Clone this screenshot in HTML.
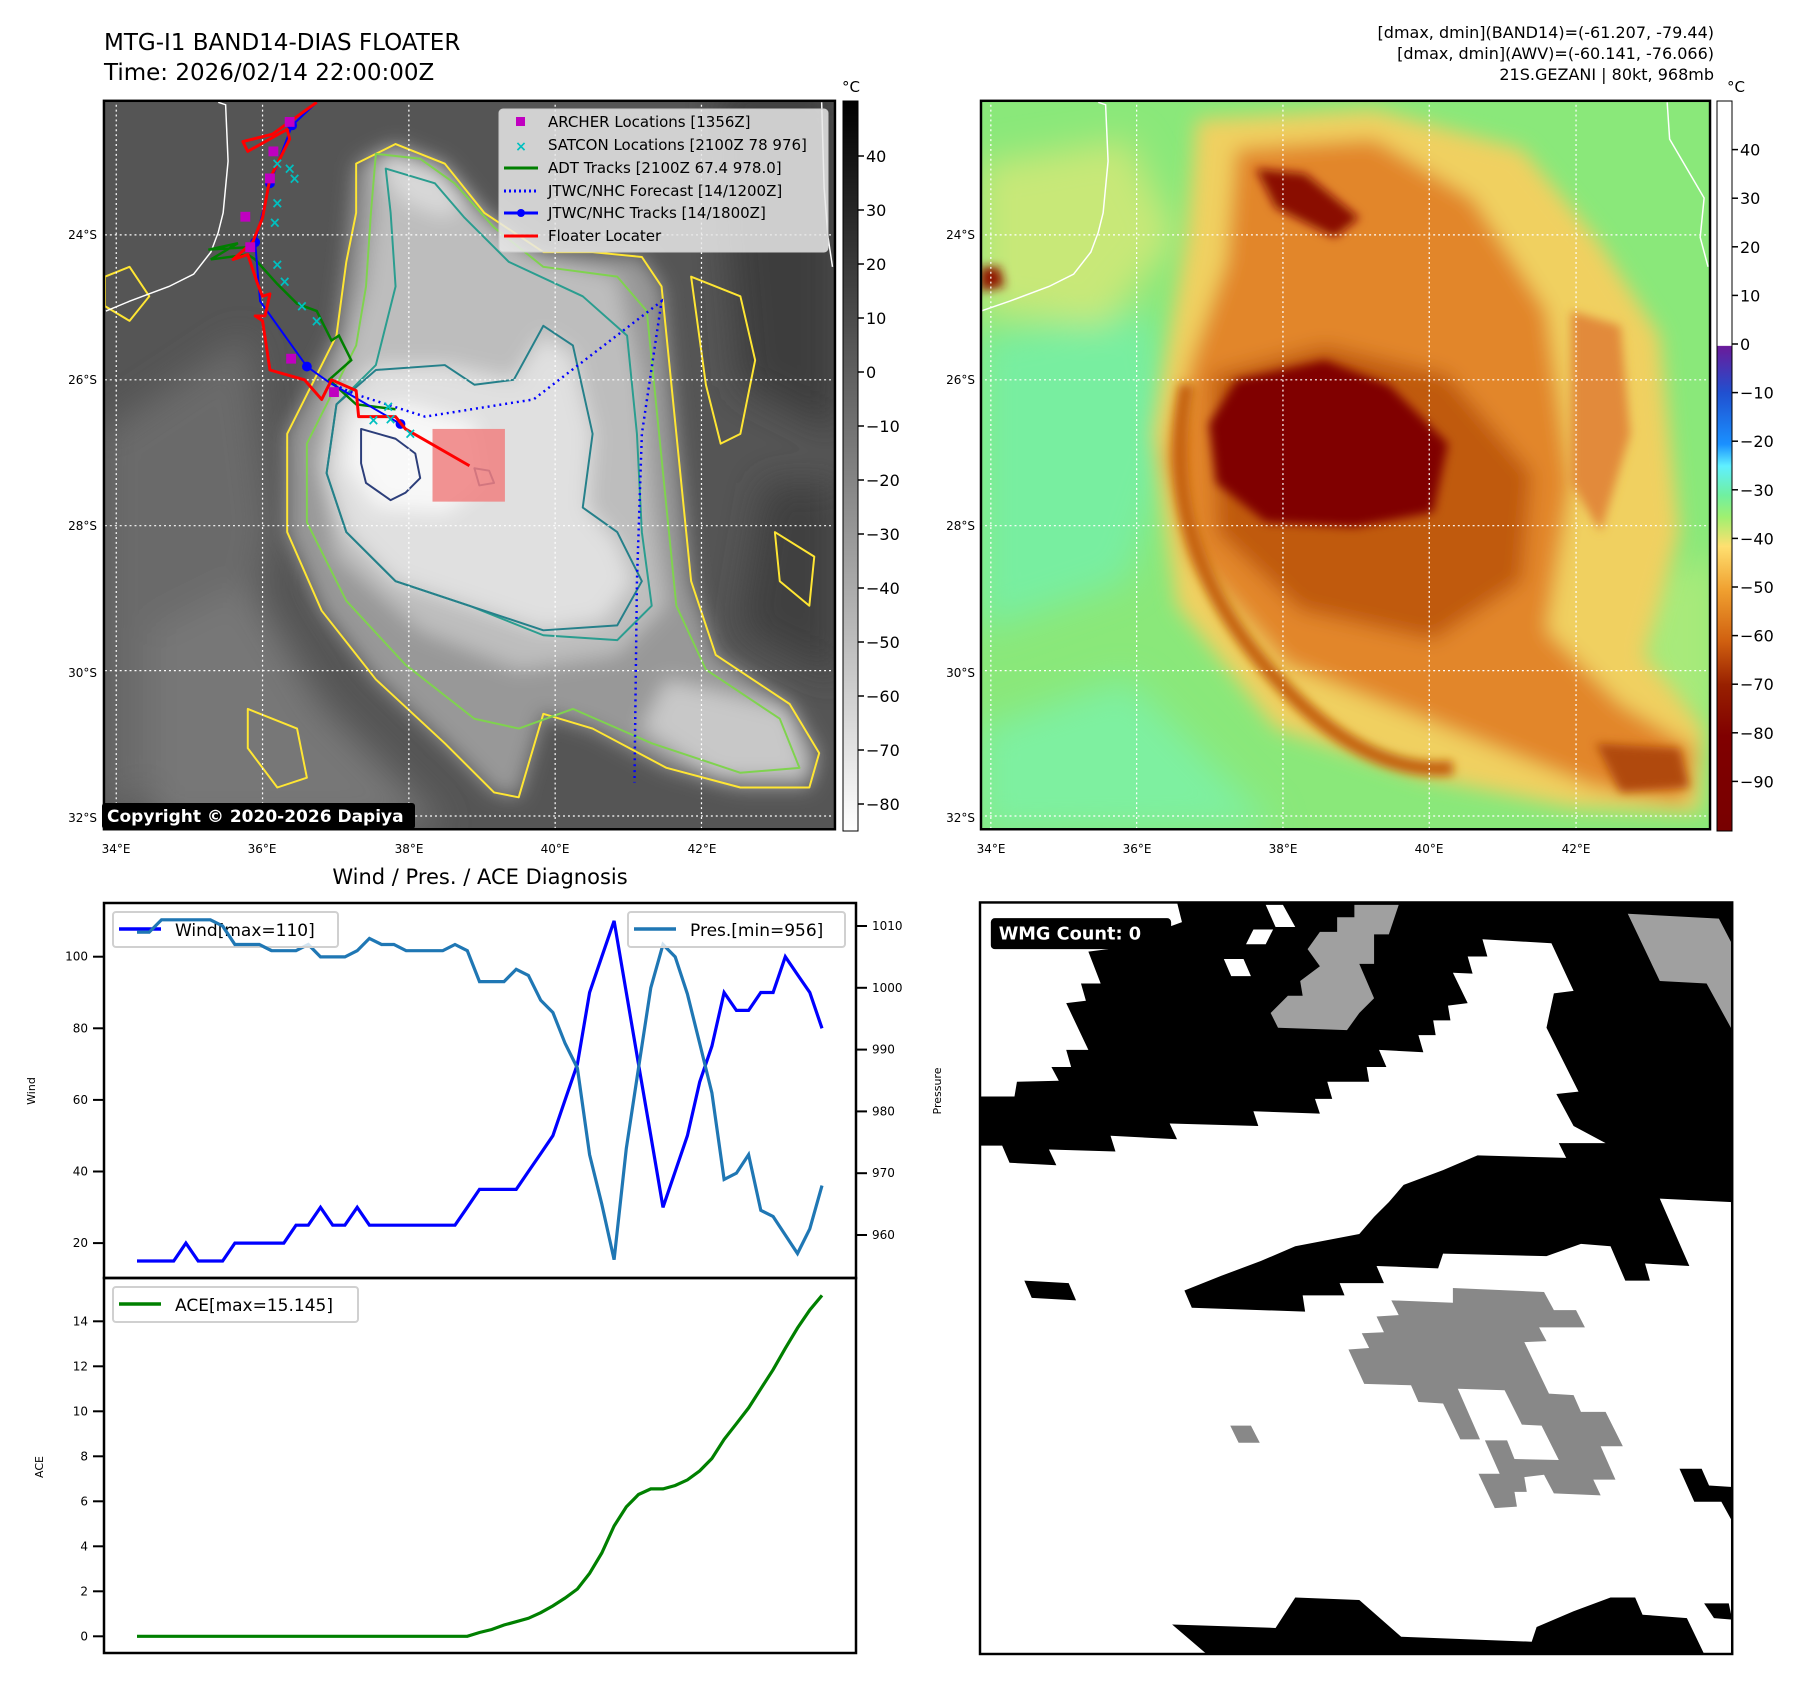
<!DOCTYPE html>
<html><head><meta charset="utf-8"><style>
html,body{margin:0;padding:0;background:#fff}
svg{display:block;font-family:"DejaVu Sans","Liberation Sans",sans-serif}
</style></head><body>
<svg id="root" width="1797" height="1690" viewBox="0 0 1797 1690" xmlns="http://www.w3.org/2000/svg">
<defs>
<filter id="b20" x="-20%" y="-20%" width="140%" height="140%"><feGaussianBlur stdDeviation="20"/></filter>
<filter id="b10" x="-20%" y="-20%" width="140%" height="140%"><feGaussianBlur stdDeviation="10"/></filter>
<filter id="b35" x="-30%" y="-30%" width="160%" height="160%"><feGaussianBlur stdDeviation="35"/></filter>
<clipPath id="clipL"><rect x="8" y="22" width="1484" height="1483"/></clipPath>
<clipPath id="clipR"><rect x="2" y="22" width="1480" height="1483"/></clipPath>
<clipPath id="clipW"><rect x="0" y="5" width="1527" height="1530"/></clipPath>
<linearGradient id="cbGray" x1="0" y1="0" x2="0" y2="1"><stop offset="0" stop-color="#000"/><stop offset="1" stop-color="#fff"/></linearGradient>
<linearGradient id="cbColor" x1="0" y1="0" x2="0" y2="1">
<stop offset="0" stop-color="#fff"/><stop offset="0.335" stop-color="#fff"/>
<stop offset="0.336" stop-color="#6a1b9a"/><stop offset="0.40" stop-color="#2050d0"/>
<stop offset="0.47" stop-color="#1a90ff"/><stop offset="0.50" stop-color="#60f0ff"/>
<stop offset="0.54" stop-color="#70f0a0"/><stop offset="0.57" stop-color="#a0f070"/>
<stop offset="0.61" stop-color="#ffe070"/><stop offset="0.67" stop-color="#f0a030"/>
<stop offset="0.74" stop-color="#d06010"/><stop offset="0.80" stop-color="#982000"/>
<stop offset="0.87" stop-color="#800000"/><stop offset="1" stop-color="#780000"/>
</linearGradient>
</defs>

<text x="104" y="50" font-size="23">MTG-I1 BAND14-DIAS FLOATER</text>
<text x="104" y="80" font-size="23">Time: 2026/02/14 22:00:00Z</text>
<g font-size="16" text-anchor="end">
<text x="1714" y="38">[dmax, dmin](BAND14)=(-61.207, -79.44)</text>
<text x="1714" y="59">[dmax, dmin](AWV)=(-60.141, -76.066)</text>
<text x="1714" y="80">21S.GEZANI | 80kt, 968mb</text>
</g>

<!-- LEFT MAP -->
<g transform="translate(100,90) scale(0.4926,0.4912)">
<g clip-path="url(#clipL)">
<rect x="0" y="0" width="1600" height="1600" fill="#555"/>
<g filter="url(#b35)">
<path d="M0 700 L300 500 L350 900 L250 1300 L0 1500Z" fill="#6a6a6a"/>
<path d="M1250 0 L1500 0 L1500 700 L1300 600Z" fill="#3c3c3c"/>
<path d="M1350 800 L1500 800 L1500 1200 L1300 1100Z" fill="#404040"/>
<path d="M100 1100 L300 1000 L450 1250 L700 1500 L100 1500Z" fill="#777"/>
</g>
<g filter="url(#b20)">
<path d="M520 150 L600 110 L700 150 L780 250 L900 330 L1100 340 L1140 400 L1160 600 L1180 800 L1200 1000 L1250 1150 L1400 1250 L1460 1350 L1440 1420 L1300 1420 L1150 1380 L1000 1300 L900 1270 L850 1440 L800 1430 L700 1330 L560 1200 L450 1060 L380 900 L380 700 L430 600 L480 500 L500 350Z" fill="#989898"/>
<path d="M560 130 L700 170 L850 330 L1050 380 L1100 600 L1120 850 L1150 1050 L1050 1150 L850 1180 L650 1100 L480 950 L440 750 L480 600 L540 400 L560 250Z" fill="#bdbdbd"/>
<path d="M480 640 L560 560 L700 560 L840 590 L900 500 L960 540 L1000 700 L990 850 L1050 920 L1080 1000 L1020 1080 L900 1100 L750 1050 L600 1000 L500 900 L460 780Z" fill="#e0e0e0"/>
<path d="M520 660 L620 640 L760 680 L780 800 L700 860 L560 850 L500 760Z" fill="#f8f8f8"/>
<path d="M580 130 L680 160 L740 230 L700 260 L620 230 L580 180Z" fill="#d8d8d8"/>
<path d="M1150 1200 L1400 1260 L1440 1400 L1250 1400 L1100 1300Z" fill="#c8c8c8"/>
</g>
<g fill="none" stroke-width="4" stroke-linejoin="round">
<path d="M520 150 L600 110 L700 150 L780 250 L900 330 L1000 330 L1100 340 L1140 400 L1160 600 L1180 800 L1200 1000 L1250 1150 L1400 1250 L1460 1350 L1440 1420 L1300 1420 L1150 1380 L1000 1300 L900 1270 L850 1440 L800 1430 L700 1330 L560 1200 L450 1060 L380 900 L380 700 L430 600 L480 500 L500 350 L520 250Z" stroke="#ffe633"/>
<path d="M560 130 L650 140 L720 190 L800 280 L900 360 L1050 380 L1110 450 L1130 650 L1150 850 L1170 1050 L1230 1180 L1380 1280 L1420 1380 L1300 1390 L1120 1330 L960 1260 L850 1300 L760 1280 L620 1170 L500 1040 L420 880 L420 720 L470 620 L520 520 L540 400 L550 250Z" stroke="#7fd34e"/>
<path d="M580 160 L680 190 L740 260 L830 350 L980 420 L1070 500 L1090 700 L1100 900 L1120 1050 L1050 1120 L900 1110 L750 1050 L600 1000 L500 900 L460 780 L480 640 L560 560 L600 400 L590 250Z" stroke="#2a9d8f"/>
<path d="M480 640 L560 570 L700 560 L760 600 L840 590 L900 480 L960 520 L1000 700 L980 850 L1050 900 L1100 1000 L1050 1090 L900 1100 L750 1050 L600 1000 L500 900 L460 780Z" stroke="#25808a"/>
<path d="M530 690 L600 710 L640 740 L650 790 L620 820 L590 835 L540 800 L530 760Z" stroke="#2c3e7a"/>
<path d="M760 770 L790 775 L800 800 L770 805Z" stroke="#2c3e7a"/>
<path d="M1200 380 L1300 420 L1330 550 L1300 700 L1260 720 L1230 600Z" stroke="#ffe633"/>
<path d="M1370 900 L1450 950 L1440 1050 L1380 1000Z" stroke="#ffe633"/>
<path d="M10 380 L60 360 L100 420 L60 470 L10 440Z" stroke="#ffe633"/>
<path d="M300 1260 L400 1300 L420 1400 L360 1420 L300 1340Z" stroke="#ffe633"/>
</g>
<g fill="none" stroke="#fff" stroke-width="3">
<path d="M240 25 L255 30 L260 145 L250 250 L240 290 L225 330 L190 375 L140 400 L60 430 L12 450"/>
<path d="M1465 25 L1470 200 L1478 300 L1487 360"/>
</g>
<g stroke="#fff" stroke-width="2.5" stroke-dasharray="4 6">
<line x1="33" y1="0" x2="33" y2="1600"/><line x1="330" y1="0" x2="330" y2="1600"/><line x1="627" y1="0" x2="627" y2="1600"/><line x1="924" y1="0" x2="924" y2="1600"/><line x1="1221" y1="0" x2="1221" y2="1600"/>
<line x1="0" y1="295" x2="1600" y2="295"/><line x1="0" y1="590" x2="1600" y2="590"/><line x1="0" y1="887" x2="1600" y2="887"/><line x1="0" y1="1182" x2="1600" y2="1182"/><line x1="0" y1="1478" x2="1600" y2="1478"/>
</g>
<rect x="675" y="690" width="147" height="148" fill="#f08080" opacity="0.85"/>
<polyline points="465,595 520,620 660,665 880,630 1140,430 1100,700 1090,1000 1085,1410" fill="none" stroke="#0000ff" stroke-width="5" stroke-dasharray="4 8"/>
<polyline points="300,320 220,325 280,312 225,345 300,335 315,345 360,395 400,435 440,450 470,510 485,500 510,550 465,590 520,640 600,650" fill="none" stroke="#007f00" stroke-width="5"/>
<polyline points="440,25 390,72 345,190 315,310 325,430 420,563 465,595 610,680" fill="none" stroke="#0000ff" stroke-width="4"/>
<g fill="#0000ff"><circle cx="390" cy="72" r="10"/><circle cx="345" cy="190" r="10"/><circle cx="315" cy="310" r="10"/><circle cx="420" cy="563" r="10"/><circle cx="610" cy="680" r="10"/></g>
<polyline points="440,25 350,90 290,105 300,125 380,80 385,100 345,180 330,260 310,310 270,345 300,335 320,395 330,420 345,415 335,460 315,460 330,470 345,570 415,590 450,630 470,590 520,612 525,665 600,665 620,690 750,765" fill="none" stroke="#ff0000" stroke-width="6" stroke-linejoin="round"/>
<g fill="#c000c0"><rect x="375" y="55" width="20" height="20"/><rect x="342" y="115" width="20" height="20"/><rect x="335" y="170" width="20" height="20"/><rect x="285" y="248" width="20" height="20"/><rect x="295" y="310" width="20" height="20"/><rect x="378" y="537" width="20" height="20"/><rect x="465" y="605" width="20" height="20"/></g>
<g fill="#00c0c0" font-size="30" font-weight="bold" text-anchor="middle"><text x="360" y="160">×</text><text x="385" y="170">×</text><text x="395" y="190">×</text><text x="360" y="240">×</text><text x="355" y="280">×</text><text x="360" y="365">×</text><text x="375" y="400">×</text><text x="410" y="450">×</text><text x="440" y="480">×</text><text x="555" y="682">×</text><text x="590" y="680">×</text><text x="630" y="710">×</text><text x="585" y="655">×</text></g>
</g>
<rect x="8" y="22" width="1484" height="1483" fill="none" stroke="#000" stroke-width="5"/>
</g>

<!-- Map legend -->
<g>
<rect x="499" y="109" width="329" height="143" rx="4" fill="#e8e8e8" fill-opacity="0.85" stroke="#ccc"/>
<g font-size="15">
<rect x="516" y="117" width="9" height="9" fill="#c000c0"/><text x="548" y="127">ARCHER Locations [1356Z]</text>
<text x="521" y="151" fill="#00c0c0" font-weight="bold" text-anchor="middle" font-size="14">×</text><text x="548" y="150">SATCON Locations [2100Z 78 976]</text>
<line x1="504" y1="168" x2="538" y2="168" stroke="#007f00" stroke-width="3"/><text x="548" y="173">ADT Tracks [2100Z 67.4 978.0]</text>
<line x1="504" y1="191" x2="538" y2="191" stroke="#0000ff" stroke-width="3" stroke-dasharray="2 3"/><text x="548" y="196">JTWC/NHC Forecast [14/1200Z]</text>
<line x1="504" y1="213" x2="538" y2="213" stroke="#0000ff" stroke-width="3"/><circle cx="521" cy="213" r="4" fill="#0000ff"/><text x="548" y="218">JTWC/NHC Tracks [14/1800Z]</text>
<line x1="504" y1="236" x2="538" y2="236" stroke="#ff0000" stroke-width="3"/><text x="548" y="241">Floater Locater</text>
</g>
</g>
<g>
<rect x="102" y="803" width="313" height="26" rx="3" fill="#000"/>
<text x="107" y="822" font-size="17" font-weight="bold" fill="#fff">Copyright © 2020-2026 Dapiya</text>
</g>

<!-- RIGHT MAP -->
<g transform="translate(980,90) scale(0.4926,0.4912)">
<g clip-path="url(#clipR)">
<rect x="0" y="0" width="1600" height="1600" fill="#8ae87a"/>
<g filter="url(#b35)">
<path d="M0 500 L350 450 L400 700 L300 1000 L0 1100Z" fill="#78eea0"/>
<path d="M0 1300 L300 1200 L600 1500 L0 1510Z" fill="#7ef0a0"/>
<path d="M0 150 L300 100 L400 300 L250 480 L0 450Z" fill="#c8e878"/>
<path d="M1300 1000 L1500 950 L1500 1300 L1350 1250Z" fill="#a8ea7a"/>
</g>
<g filter="url(#b20)">
<path d="M440 60 L800 40 L1100 120 L1250 300 L1380 500 L1420 900 L1350 1150 L1470 1300 L1460 1470 L1200 1460 L900 1400 L600 1300 L400 1050 L350 700 L420 300Z" fill="#f0d060"/>
<path d="M520 120 L800 100 L1000 220 L1150 450 L1200 800 L1150 1100 L1300 1250 L1450 1340 L1430 1450 L1250 1420 L950 1300 L620 1170 L430 950 L380 750 L430 550 L500 350Z" fill="#e2862a"/>
<path d="M470 580 L700 520 L950 580 L1120 780 L1100 1000 L920 1120 L650 1060 L480 900Z" fill="#c05a0c"/>
</g>
<g filter="url(#b10)">
<path d="M465 680 L520 590 L700 550 L830 600 L950 720 L920 860 L760 890 L580 880 L480 800Z" fill="#800000"/>
<path d="M560 160 L660 170 L770 260 L720 300 L600 240Z" fill="#8a1000"/>
<path d="M0 360 L40 360 L50 400 L0 410Z" fill="#901400"/>
<path d="M1250 1330 L1420 1340 L1440 1420 L1300 1430Z" fill="#b04808"/>
<path d="M420 600 Q360 900 560 1150 T960 1380" fill="none" stroke="#c46010" stroke-width="30"/>
<path d="M1200 450 L1300 480 L1320 700 L1260 900 L1200 800Z" fill="#e28a3a"/>
</g>
</g>
<g fill="none" stroke="#fff" stroke-width="3">
<path d="M240 25 L255 30 L260 145 L250 250 L240 290 L225 330 L190 375 L140 400 L60 430 L2 450"/>
<path d="M1395 25 L1400 100 L1470 220 L1462 300 L1478 360"/>
</g>
<g stroke="#fff" stroke-width="2.5" stroke-dasharray="4 6">
<line x1="22" y1="0" x2="22" y2="1600"/><line x1="318" y1="0" x2="318" y2="1600"/><line x1="615" y1="0" x2="615" y2="1600"/><line x1="912" y1="0" x2="912" y2="1600"/><line x1="1210" y1="0" x2="1210" y2="1600"/>
<line x1="0" y1="295" x2="1600" y2="295"/><line x1="0" y1="590" x2="1600" y2="590"/><line x1="0" y1="887" x2="1600" y2="887"/><line x1="0" y1="1182" x2="1600" y2="1182"/><line x1="0" y1="1478" x2="1600" y2="1478"/>
</g>
<rect x="2" y="22" width="1480" height="1483" fill="none" stroke="#000" stroke-width="5"/>
</g>

<!-- map axis labels -->
<g font-size="12">
<g text-anchor="end"><text x="97" y="239">24°S</text><text x="97" y="384">26°S</text><text x="97" y="530">28°S</text><text x="97" y="677">30°S</text><text x="97" y="822">32°S</text>
<text x="975" y="239">24°S</text><text x="975" y="384">26°S</text><text x="975" y="530">28°S</text><text x="975" y="677">30°S</text><text x="975" y="822">32°S</text></g>
<g text-anchor="middle"><text x="116" y="853">34°E</text><text x="262" y="853">36°E</text><text x="409" y="853">38°E</text><text x="555" y="853">40°E</text><text x="702" y="853">42°E</text>
<text x="991" y="853">34°E</text><text x="1137" y="853">36°E</text><text x="1283" y="853">38°E</text><text x="1429" y="853">40°E</text><text x="1576" y="853">42°E</text></g>
</g>

<!-- colorbars -->
<g>
<rect x="843" y="101" width="15" height="730" fill="url(#cbGray)" stroke="#000"/>
<text x="851" y="92" font-size="15" text-anchor="middle">°C</text>
<g font-size="16" id="cbLTicks"></g>
</g>
<g>
<rect x="1717" y="101" width="15" height="730" fill="url(#cbColor)" stroke="#000"/>
<text x="1736" y="92" font-size="15" text-anchor="middle">°C</text>
<g font-size="16" id="cbRTicks"></g>
</g>

<!-- diagnosis chart -->
<text x="480" y="884" font-size="21" text-anchor="middle">Wind / Pres. / ACE Diagnosis</text>
<g id="chart"></g>

<!-- WMG panel -->
<g transform="translate(980,900) scale(0.4926,0.4912)">
<g clip-path="url(#clipW)">
<rect x="0" y="5" width="1527" height="1530" fill="#fff"/>
<polygon fill="#000" points="400,5 1527,5 1527,615 1380,608 1440,745 1350,740 1360,775 1310,775 1280,705 1220,700 1150,725 940,720 930,750 805,745 820,780 730,780 740,805 655,805 660,838 430,830 415,795 490,765 570,735 640,705 770,680 800,645 830,615 860,580 940,550 1010,520 1190,525 1175,495 1270,495 1205,460 1170,395 1215,390 1150,260 1165,190 1205,185 1160,88 1020,80 1030,115 990,115 1000,150 960,148 990,210 950,215 955,245 920,245 925,275 890,275 900,310 810,305 825,340 785,340 790,370 705,370 715,405 680,405 690,435 555,430 565,460 385,455 400,487 265,480 275,512 140,508 155,540 60,535 45,500 0,500 0,400 70,400 75,370 160,368 145,340 185,340 175,305 220,305 175,210 215,205 205,170 245,170 220,105 260,100 410,45"/>
<polygon fill="#a0a0a0" points="760,10 850,10 830,70 800,70 800,130 770,130 800,200 770,230 745,265 605,260 590,230 625,195 655,195 650,165 690,135 665,100 690,65 725,65 725,35 760,35"/>
<polygon fill="#a0a0a0" points="1315,28 1500,38 1527,90 1527,265 1475,170 1380,165"/>
<polygon fill="#fff" points="580,10 615,10 640,55 600,55"/>
<polygon fill="#fff" points="555,60 595,60 580,90 540,90"/>
<polygon fill="#fff" points="495,120 535,120 550,155 510,155"/>
<polygon fill="#888" points="960,790 1145,798 1165,835 1210,835 1228,870 1135,870 1150,898 1105,900 1155,1005 1205,1008 1220,1042 1270,1042 1305,1112 1260,1112 1290,1180 1245,1180 1260,1212 1165,1208 1145,1170 1105,1175 1110,1205 1085,1205 1090,1235 1045,1238 1012,1168 1055,1168 1025,1100 1070,1100 1085,1138 1175,1140 1140,1070 1100,1068 1065,998 970,995 1015,1098 975,1098 940,1025 890,1022 875,988 780,985 748,915 790,912 775,882 820,880 805,848 850,845 835,815 960,820"/>
<polygon fill="#888" points="508,1070 550,1070 568,1105 525,1105"/>
<polygon fill="#000" points="90,775 180,780 195,815 105,810"/>
<polygon fill="#000" points="390,1475 600,1482 640,1420 770,1425 855,1500 1120,1510 1130,1480 1205,1448 1280,1420 1330,1420 1345,1455 1435,1462 1470,1535 460,1535"/>
<polygon fill="#000" points="1420,1158 1465,1158 1480,1192 1527,1195 1527,1265 1505,1225 1450,1225"/>
<polygon fill="#000" points="1470,1432 1520,1432 1527,1465 1490,1462"/>
</g>
<rect x="0" y="5" width="1527" height="1530" fill="none" stroke="#000" stroke-width="5"/>
<rect x="22" y="37" width="366" height="63" rx="8" fill="#000"/>
<text x="38" y="80" font-size="36" font-weight="bold" fill="#fff">WMG Count: 0</text>
</g>
</svg>

<script>
const NS = "http://www.w3.org/2000/svg";
// ---- chart data ----
const windValues = [15,15,15,15,20,15,15,15,20,20,20,20,20,25,25,30,25,25,30,25,25,25,25,25,25,25,25,30,35,35,35,35,40,45,50,60,70,90,100,110,90,70,50,30,40,50,65,75,90,85,85,90,90,100,95,90,80];
const presValues = [1009,1009,1011,1011,1011,1011,1011,1010,1007,1007,1007,1006,1006,1006,1007,1005,1005,1005,1006,1008,1007,1007,1006,1006,1006,1006,1007,1006,1001,1001,1001,1003,1002,998,996,991,987,973,965,956,974,987,1000,1007,1005,999,991,983,969,970,973,964,963,960,957,961,968];
const aceValues = [0,0,0,0,0,0,0,0,0,0,0,0,0,0,0,0,0,0,0,0,0,0,0,0,0,0,0,0,0.17,0.3,0.5,0.65,0.8,1.05,1.35,1.7,2.1,2.8,3.7,4.9,5.75,6.3,6.55,6.55,6.7,6.95,7.35,7.9,8.75,9.45,10.15,11,11.85,12.8,13.7,14.5,15.15];
const windTicks = [20,40,60,80,100];
const presTicks = [960,970,980,990,1000,1010];
const aceTicks = [0,2,4,6,8,10,12,14];
const grayCbTicks = [40,30,20,10,0,-10,-20,-30,-40,-50,-60,-70,-80];
const colorCbTicks = [40,30,20,10,0,-10,-20,-30,-40,-50,-60,-70,-80,-90];

// layout
const L = 104, R = 856, T = 903, MID = 1278, B = 1653;
const xScale = i => 137 + i * (822 - 137) / (windValues.length - 1);
const yWind = v => 956.7 + (100 - v) * 3.58;
const yPres = p => 926 + (1010 - p) * 6.18;
const yAce = a => 1636.3 - a * 22.5;
const yGrayCb = v => 156 + (40 - v) * 5.4;
const yColorCb = v => 344 - v * 4.86;

function mk(tag, attrs, parent){
  const e = document.createElementNS(NS, tag);
  for (const k in attrs) e.setAttribute(k, attrs[k]);
  parent.appendChild(e); return e;
}
function txt(x,y,s,size,anchor,parent){
  const t = mk('text',{x:x,y:y,'font-size':size,'text-anchor':anchor},parent);
  t.textContent = s; return t;
}
const chart = document.getElementById('chart');

const f1 = mk('rect',{x:L,y:T,width:R-L,height:MID-T,fill:'none',stroke:'#000','stroke-width':2.5},chart);


const f2 = mk('rect',{x:L,y:MID,width:R-L,height:B-MID,fill:'none',stroke:'#000','stroke-width':2.5},chart);



windTicks.forEach(v=>{
  const y = yWind(v);
  mk('line',{x1:L-11,y1:y,x2:L,y2:y,stroke:'#000','stroke-width':2},chart);
  const t = txt(L-16,y+4,String(v),12,'end',chart);
  
  
});
presTicks.forEach(p=>{
  const y = yPres(p);
  mk('line',{x1:R,y1:y,x2:R+11,y2:y,stroke:'#000','stroke-width':2},chart);
  const t = txt(R+16,y+4,String(p),12,'start',chart);
  
  
});
aceTicks.forEach(a=>{
  const y = yAce(a);
  mk('line',{x1:L-11,y1:y,x2:L,y2:y,stroke:'#000','stroke-width':2},chart);
  const t = txt(L-16,y+4,String(a),12,'end',chart);
  
  
});
const wl = txt(0,0,'Wind',11,'middle',chart);
wl.setAttribute('transform','translate(35,1091) rotate(-90)');


const pl = txt(0,0,'Pressure',11,'middle',chart);
pl.setAttribute('transform','translate(941,1091) rotate(-90)');


const al = txt(0,0,'ACE',11,'middle',chart);
al.setAttribute('transform','translate(43,1467) rotate(-90)');



function line(vals, yf, color, name){
  const pts = vals.map((v,i)=> xScale(i).toFixed(1)+','+yf(v).toFixed(1)).join(' ');
  const p = mk('polyline',{points:pts,fill:'none',stroke:color,'stroke-width':3.2,'stroke-linejoin':'miter'},chart);
  
  
}
line(windValues, yWind, '#0000ff', 'wind-line');
line(presValues, yPres, '#1f77b4', 'pressure-line');
line(aceValues, yAce, '#008000', 'ace-line');

function legend(x,y,w,color,label,name){
  const g = mk('g',{},chart);
  
  
  mk('rect',{x:x,y:y,width:w,height:35,rx:3,fill:'#fff','fill-opacity':0.8,stroke:'#d0d0d0','stroke-width':2},g);
  mk('line',{x1:x+6,y1:y+17,x2:x+48,y2:y+17,stroke:color,'stroke-width':3.5},g);
  txt(x+62,y+24,label,17,'start',g);
}
legend(113,912,225,'#0000ff','Wind[max=110]','wind-legend');
legend(628,912,217,'#1f77b4','Pres.[min=956]','pressure-legend');
legend(113,1287,245,'#008000','ACE[max=15.145]','ace-legend');
const pOver = presValues.slice(0,12).map((v,i)=> xScale(i).toFixed(1)+','+yPres(v).toFixed(1)).join(' ');
mk('polyline',{points:pOver,fill:'none',stroke:'#1f77b4','stroke-width':3.2},chart);

const cbL = document.getElementById('cbLTicks');
grayCbTicks.forEach(v=>{
  const y = yGrayCb(v);
  mk('line',{x1:858,y1:y,x2:864,y2:y,stroke:'#000','stroke-width':1.5},cbL);
  const t = txt(866,y+6,(v<0?'\u2212':'')+Math.abs(v),16,'start',cbL);
  
  
});
const cbR = document.getElementById('cbRTicks');
colorCbTicks.forEach(v=>{
  const y = yColorCb(v);
  mk('line',{x1:1732,y1:y,x2:1738,y2:y,stroke:'#000','stroke-width':1.5},cbR);
  const t = txt(1740,y+6,(v<0?'\u2212':'')+Math.abs(v),16,'start',cbR);
  
  
});
</script>
</body></html>
